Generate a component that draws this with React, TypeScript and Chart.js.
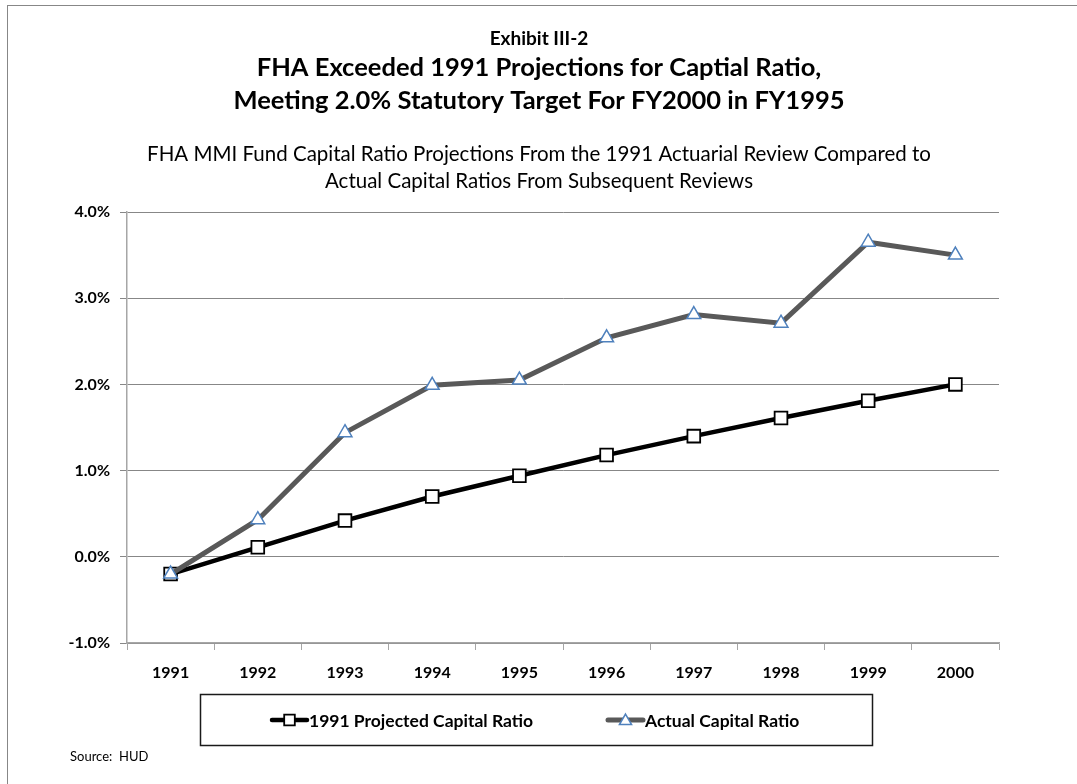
import React, { useEffect, useRef } from "react";
import { Chart, registerables } from "chart.js";

Chart.register(...registerables);

const years = ["1991", "1992", "1993", "1994", "1995", "1996", "1997", "1998", "1999", "2000"];
const projected = [-0.2, 0.11, 0.42, 0.7, 0.94, 1.18, 1.4, 1.61, 1.81, 2.0];
const actual = [-0.2, 0.43, 1.44, 1.99, 2.05, 2.54, 2.81, 2.71, 3.65, 3.5];
const yTicks = [-1, 0, 1, 2, 3, 4];

const exhibitLabel = "Exhibit III-2";
const titleLines = [
  "FHA Exceeded 1991 Projections for Captial Ratio,",
  "Meeting 2.0% Statutory Target For FY2000 in FY1995",
];
const subtitleLines = [
  "FHA MMI Fund Capital Ratio Projections From the 1991 Actuarial Review Compared to",
  "Actual Capital Ratios From Subsequent Reviews",
];
const sourceText = "Source:  HUD";

const FONT = "Lato, 'Open Sans', sans-serif";

function drawMarker(ctx: CanvasRenderingContext2D, style: string, x: number, y: number, r: number, fill: string, stroke: string, lw: number) {
  ctx.save();
  ctx.fillStyle = fill;
  ctx.strokeStyle = stroke;
  ctx.lineWidth = lw;
  ctx.beginPath();
  if (style === "rect") {
    const s = Math.SQRT1_2 * r;
    ctx.rect(x - s, y - s, 2 * s, 2 * s);
  } else {
    const a = (2 * Math.PI) / 3;
    ctx.moveTo(x, y - r);
    ctx.lineTo(x + Math.sin(a) * r, y - Math.cos(a) * r);
    ctx.lineTo(x + Math.sin(2 * a) * r, y - Math.cos(2 * a) * r);
    ctx.closePath();
  }
  ctx.fill();
  ctx.stroke();
  ctx.restore();
}

const decorPlugin = {
  id: "decor",
  beforeDraw(chart: any) {
    const ctx: CanvasRenderingContext2D = chart.ctx;
    ctx.save();
    ctx.fillStyle = "#ffffff";
    ctx.fillRect(0, 0, chart.width, chart.height);
    ctx.strokeStyle = "#878787";
    ctx.lineWidth = 1;
    ctx.strokeRect(7.5, 5.5, 1200, 1000);
    ctx.restore();
  },
  afterDraw(chart: any) {
    const ctx: CanvasRenderingContext2D = chart.ctx;
    const cx = 539;
    ctx.save();
    ctx.fillStyle = "#000";
    ctx.textAlign = "center";
    ctx.textBaseline = "alphabetic";
    ctx.font = `bold 19px ${FONT}`;
    ctx.fillText(exhibitLabel, cx, 45);
    ctx.font = `bold 25.5px ${FONT}`;
    ctx.fillText(titleLines[0], cx, 76);
    ctx.fillText(titleLines[1], cx, 109);
    ctx.font = `20.5px ${FONT}`;
    ctx.fillText(subtitleLines[0], cx, 161);
    ctx.fillText(subtitleLines[1], cx, 188);

    // legend
    ctx.strokeStyle = "#1a1a1a";
    ctx.lineWidth = 1.5;
    ctx.strokeRect(200.5, 694.5, 672, 51);
    const ly = 720;
    const items = [
      { ds: chart.data.datasets[0], x0: 272 },
      { ds: chart.data.datasets[1], x0: 608 },
    ];
    ctx.font = `bold 17.5px ${FONT}`;
    ctx.textAlign = "left";
    ctx.textBaseline = "middle";
    items.forEach(({ ds, x0 }) => {
      ctx.save();
      ctx.strokeStyle = ds.borderColor;
      ctx.lineWidth = ds.borderWidth;
      ctx.lineCap = "round";
      ctx.beginPath();
      ctx.moveTo(x0, ly);
      ctx.lineTo(x0 + 35, ly);
      ctx.stroke();
      ctx.restore();
      drawMarker(ctx, ds.pointStyle, x0 + 17.5, ly + (ds.pointStyle === "triangle" ? 1 : 0), ds.pointStyle === "rect" ? 7.5 : 7, ds.pointBackgroundColor, ds.pointBorderColor, ds.pointBorderWidth);
      ctx.fillStyle = "#000";
      ctx.fillText(ds.label, x0 + 37, ly + 1);
    });

    ctx.font = `13px ${FONT}`;
    ctx.textBaseline = "alphabetic";
    ctx.fillText(sourceText, 70, 761);
    ctx.restore();
  },
};

export default function App() {
  const ref = useRef<HTMLCanvasElement>(null);
  useEffect(() => {
    if (!ref.current) return;
    const chart = new Chart(ref.current, {
      type: "line",
      data: {
        labels: years,
        datasets: [
          {
            label: "1991 Projected Capital Ratio",
            data: projected,
            borderColor: "#000000",
            borderWidth: 4.5,
            pointStyle: "rect",
            pointRadius: 9,
            pointBackgroundColor: "#ffffff",
            pointBorderColor: "#000000",
            pointBorderWidth: 1.8,
            tension: 0,
            order: 1,
          } as any,
          {
            label: "Actual Capital Ratio",
            data: actual,
            borderColor: "#595959",
            borderWidth: 5,
            pointStyle: "triangle",
            pointRadius: 8,
            pointBackgroundColor: "#ffffff",
            pointBorderColor: "#4f81bd",
            pointBorderWidth: 1.5,
            tension: 0,
            order: 0,
          } as any,
        ],
      },
      options: {
        responsive: false,
        animation: false,
        layout: { padding: { left: 0, right: 78, top: 212, bottom: 81 } },
        plugins: {
          legend: { display: false },
          title: { display: false },
          tooltip: { enabled: false },
        },
        scales: {
          x: {
            type: "category",
            offset: true,
            afterFit: (s: any) => {
              s.height = 60;
            },
            grid: {
              offset: true,
              drawOnChartArea: false,
              drawTicks: true,
              tickLength: 7,
              color: "#a6a6a6",
            },
            border: { color: "#a6a6a6", width: 1.5 },
            ticks: {
              color: "#000",
              font: { family: FONT, size: 16, weight: "bold" },
              padding: 13,
              maxRotation: 0,
            },
          },
          y: {
            min: -1,
            max: 4,
            afterFit: (s: any) => {
              s.width = 127;
            },
            afterBuildTicks: (s: any) => {
              s.ticks = yTicks.map((v) => ({ value: v }));
            },
            grid: { color: "#878787", lineWidth: 1, tickLength: 7 },
            border: { color: "#a6a6a6", width: 1.5 },
            ticks: {
              color: "#000",
              font: { family: FONT, size: 16, weight: "bold" },
              padding: 10,
              callback: (v: any) => Number(v).toFixed(1) + "%",
            },
          },
        },
      },
      plugins: [decorPlugin],
    });
    return () => chart.destroy();
  }, []);
  return (
    <div style={{ position: "fixed", left: 0, top: 0, width: 1077, height: 784, background: "#fff" }}>
      <canvas ref={ref} width={1077} height={784} style={{ display: "block" }} />
    </div>
  );
}
